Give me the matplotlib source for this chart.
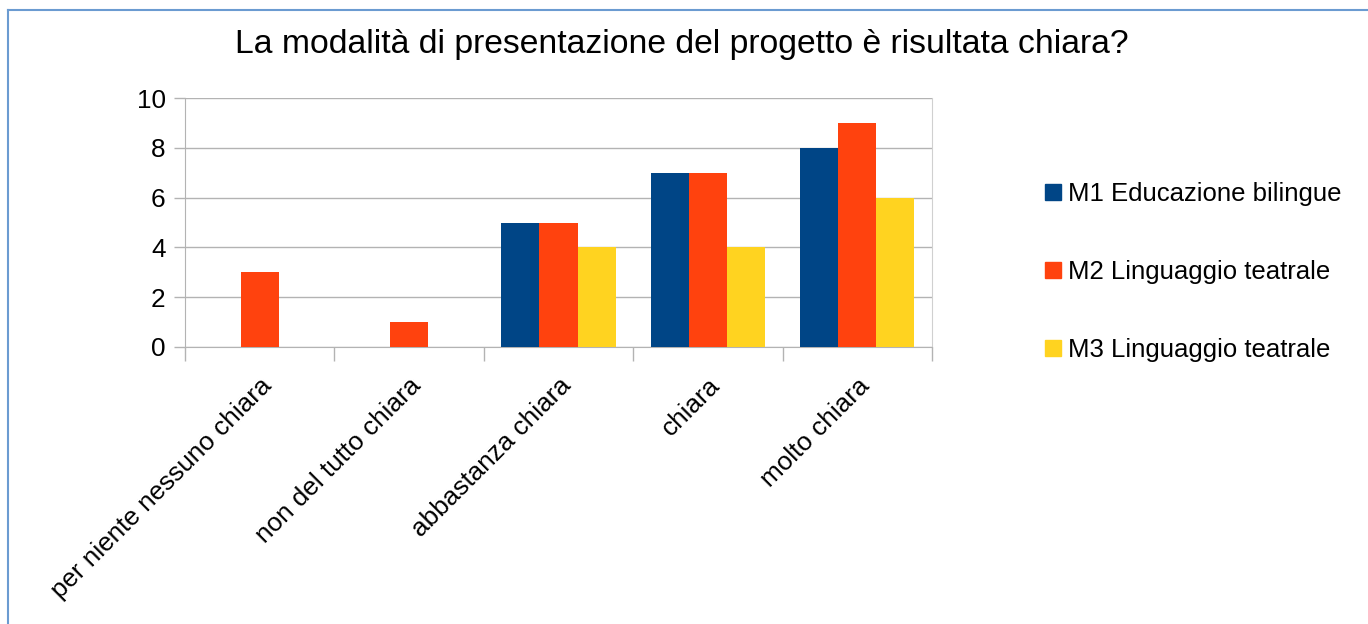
import matplotlib.pyplot as plt
from matplotlib.lines import Line2D
import numpy as np

plt.rcParams['font.family'] = ['Liberation Sans', 'DejaVu Sans']

# dati
categorie = ['per niente nessuno chiara', 'non del tutto chiara',
             'abbastanza chiara', 'chiara', 'molto chiara']
serie = ['M1 Educazione bilingue', 'M2 Linguaggio teatrale', 'M3 Linguaggio teatrale']
m1 = [0, 0, 5, 7, 8]
m2 = [3, 1, 5, 7, 9]
m3 = [0, 0, 4, 4, 6]
colori = ['#004586', '#ff420e', '#ffd320']

fig = plt.figure(figsize=(13.68, 6.24), dpi=100)
ax = fig.add_axes([185 / 1368, 1 - 347 / 624, (932 - 185) / 1368, (347 - 98) / 624])

x = np.arange(len(categorie))
w = 0.255
for i, (vals, col, nome) in enumerate(zip([m1, m2, m3], colori, serie)):
    ax.bar(x + (i - 1) * w, vals, width=w, color=col, label=nome, zorder=3)

ax.set_xlim(-0.5, len(categorie) - 0.5)
ax.set_ylim(0, 10)
ax.set_yticks(range(0, 11, 2))
ax.grid(axis='y', color='#b3b3b3', linewidth=1, zorder=0)

# tacche ai bordi delle categorie, etichette al centro
ax.set_xticks(x)
ax.set_xticklabels(categorie, rotation=45, ha='right', rotation_mode='anchor')
ax.set_xticks(np.arange(-0.5, len(categorie)), minor=True)
ax.tick_params(axis='x', which='major', length=0, pad=19, labelsize=18.8)
ax.tick_params(axis='x', which='minor', length=10, color='#b3b3b3', width=1)
ax.tick_params(axis='y', length=8, color='#b3b3b3', width=1, labelsize=18.8, pad=6)

for s in ['left', 'bottom', 'right']:
    ax.spines[s].set_color('#b3b3b3')
ax.spines['right'].set_color('#d0d0d0')
ax.spines['top'].set_visible(False)

fig.text(0.4985, 0.928, 'La modalità di presentazione del progetto è risultata chiara?',
         ha='center', va='center', fontsize=24.3)

handles = [Line2D([], [], marker='s', linestyle='none', markersize=11,
                  markerfacecolor=c, markeredgecolor=c) for c in colori]
fig.legend(handles, serie, loc='center left', bbox_to_anchor=(1027 / 1368, 1 - 272 / 624),
           frameon=False, fontsize=18.5, labelspacing=2.1, handletextpad=0.1,
           handlelength=1.0, borderpad=0)

# bordo azzurro della cornice
fig.add_artist(Line2D([8 / 1368, 1], [1 - 10 / 624, 1 - 10 / 624],
                      transform=fig.transFigure, color='#6b9bd1', linewidth=1.5))
fig.add_artist(Line2D([8 / 1368, 8 / 1368], [0, 1 - 10 / 624],
                      transform=fig.transFigure, color='#6b9bd1', linewidth=1.5))

fig.savefig('out.png', dpi=100)
